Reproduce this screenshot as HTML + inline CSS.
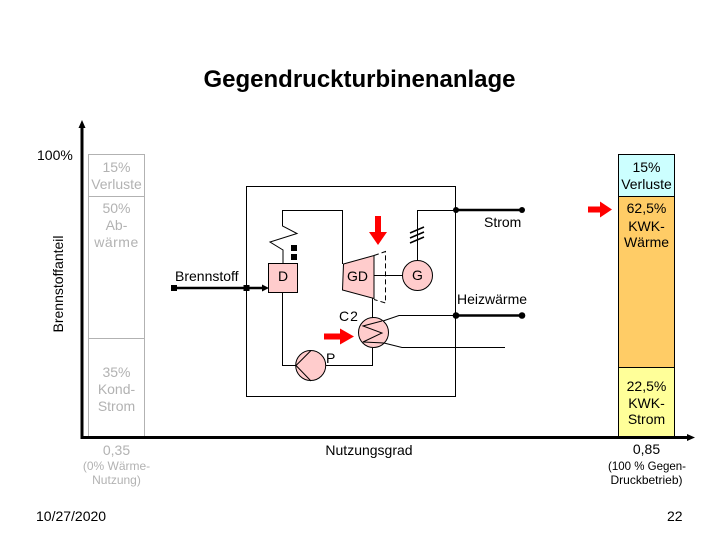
<!DOCTYPE html>
<html>
<head>
<meta charset="utf-8">
<style>
html,body{margin:0;padding:0;background:#fff;}
svg{display:block;}
text{font-family:"Liberation Sans",Arial,sans-serif;font-size:14px;fill:#000;}
.g text,text.g{fill:#b2b2b2;}
.s{font-size:12px;}
.m{text-anchor:middle;}
</style>
</head>
<body>
<svg width="720" height="540" viewBox="0 0 720 540" xmlns="http://www.w3.org/2000/svg">
<text x="359.5" y="87" class="m" style="font-size:24px;font-weight:bold">Gegendruckturbinenanlage</text>

<!-- left bars -->
<g fill="#fff" stroke="#b2b2b2" stroke-width="1">
<rect x="88.5" y="154.5" width="56" height="42"/>
<rect x="88.5" y="196.5" width="56" height="142"/>
<rect x="88.5" y="338.5" width="56" height="98"/>
</g>
<!-- right bars -->
<g stroke="#000" stroke-width="1">
<rect x="618.5" y="154.5" width="56" height="42" fill="#ccffff"/>
<rect x="618.5" y="196.5" width="56" height="171" fill="#ffcc66"/>
<rect x="618.5" y="367.5" width="56" height="70" fill="#ffff99"/>
</g>

<!-- axes -->
<path d="M82 126V437.5H690" fill="none" stroke="#000" stroke-width="3"/>
<path d="M82 120l-3.5 8h7zM695 437.5l-8-3.5v7z" fill="#000"/>

<!-- labels left -->
<text x="37" y="160">100%</text>
<text transform="translate(63,332.5) rotate(-90)">Brennstoffanteil</text>
<g class="g">
<text x="116.500" y="172" class="m">15%</text>
<text x="116.500" y="189" class="m">Verluste</text>
<text x="116.500" y="213" class="m">50%</text>
<text x="116.500" y="230" class="m">Ab-</text>
<text x="116.500" y="247" class="m" letter-spacing="0.5">wärme</text>
<text x="116.500" y="377" class="m">35%</text>
<text x="116.500" y="394" class="m">Kond-</text>
<text x="116.500" y="411" class="m">Strom</text>
<text x="116.500" y="455" class="m">0,35</text>
<text x="116.500" y="470" class="m s">(0% Wärme-</text>
<text x="116.500" y="484" class="m s">Nutzung)</text>
</g>

<!-- labels right -->
<text x="646.500" y="172" class="m">15%</text>
<text x="646.500" y="189" class="m">Verluste</text>
<text x="646.500" y="213" class="m">62,5%</text>
<text x="646.500" y="231" class="m">KWK-</text>
<text x="646.500" y="247" class="m">Wärme</text>
<text x="646.500" y="391" class="m">22,5%</text>
<text x="646.500" y="408" class="m">KWK-</text>
<text x="646.500" y="424" class="m">Strom</text>
<text x="646.500" y="454" class="m">0,85</text>
<text x="647" y="470" class="m s" textLength="78" lengthAdjust="spacingAndGlyphs">(100 % Gegen-</text>
<text x="646.500" y="484" class="m s">Druckbetrieb)</text>
<text x="667" y="521">22</text>
<text x="36" y="521">10/27/2020</text>
<text x="369" y="455" class="m">Nutzungsgrad</text>

<!-- system boundary -->
<rect x="246.500" y="186.500" width="209" height="210" fill="none" stroke="#000" stroke-width="1"/>

<!-- steam circuit -->
<g fill="none" stroke="#000" stroke-width="1">
<path d="M342.500 264V210.500H282.500V226L297 233.500L270 242L283 250V263"/>
<path d="M282.500 292V365.500H296"/>
<path d="M326 365.500H372.500V348"/>
<path d="M372.500 318V298"/>
<path d="M374 275.500H403"/>
<path d="M417.500 261V210.500H456"/>
<path d="M456 315.500H399L383 321"/>
<path d="M505 347.500H402L384 343"/>
</g>

<!-- regulator squares -->
<rect x="291" y="245" width="6" height="6" fill="#000"/>
<rect x="291" y="254" width="6" height="6" fill="#000"/>

<!-- slashes -->
<g stroke="#000" stroke-width="1.500">
<path d="M410 233L424 227M410 238L424 232M410 243L424 237"/>
</g>

<!-- components -->
<rect x="268.500" y="263.500" width="29" height="29" fill="#ffcccc" stroke="#000"/>
<path d="M343.500 264L374 255.500V298.500L342.500 290Z" fill="#ffcccc" stroke="#000"/>
<path d="M374 255.500L385.500 251.500V303L374 299.500" fill="none" stroke="#000" stroke-dasharray="5 3"/>
<circle cx="417.500" cy="275.500" r="15" fill="#ffcccc" stroke="#000"/>
<circle cx="373.500" cy="332.500" r="15" fill="#ffcccc" stroke="#000"/>
<path d="M382 321L363 326L382 333L363 342L384 343" fill="none" stroke="#000"/>
<circle cx="310.700" cy="365.500" r="15" fill="#ffcccc" stroke="#000"/>
<path d="M311 350.500L296 365.500L311 381" fill="none" stroke="#000"/>

<!-- thick flows -->
<g stroke="#000" stroke-width="2.500" fill="none">
<path d="M174 288H262"/>
<path d="M456 210H522"/>
<path d="M456 315.500H522"/>
</g>
<path d="M269 288l-7-3.500v7z" fill="#000"/>
<rect x="171" y="285" width="6" height="6" fill="#000"/>
<rect x="243.500" y="285" width="6" height="6" fill="#000"/>
<circle cx="456" cy="210" r="3" fill="#000"/>
<circle cx="522" cy="210" r="3" fill="#000"/>
<circle cx="456" cy="315.500" r="3.300" fill="#000"/>
<circle cx="522" cy="315.500" r="3.300" fill="#000"/>

<!-- red arrows -->
<g fill="#ff0000">
<path d="M375 216h6v16h6l-9 13-9-13h6z"/>
<path d="M324 333.500h16v-5l14 8-14 8v-5h-16z"/>
<path d="M588 206.500h12v-5l12 8-12 8v-5h-12z"/>
</g>

<!-- diagram labels -->
<text x="175" y="281">Brennstoff</text>
<text x="283" y="281" class="m">D</text>
<text x="357.500" y="281" class="m">GD</text>
<text x="417.500" y="280" class="m">G</text>
<text x="484" y="227">Strom</text>
<text x="457" y="304">Heizwärme</text>
<text x="339" y="321" letter-spacing="1">C2</text>
<text x="326" y="363">P</text>
</svg>
</body>
</html>
